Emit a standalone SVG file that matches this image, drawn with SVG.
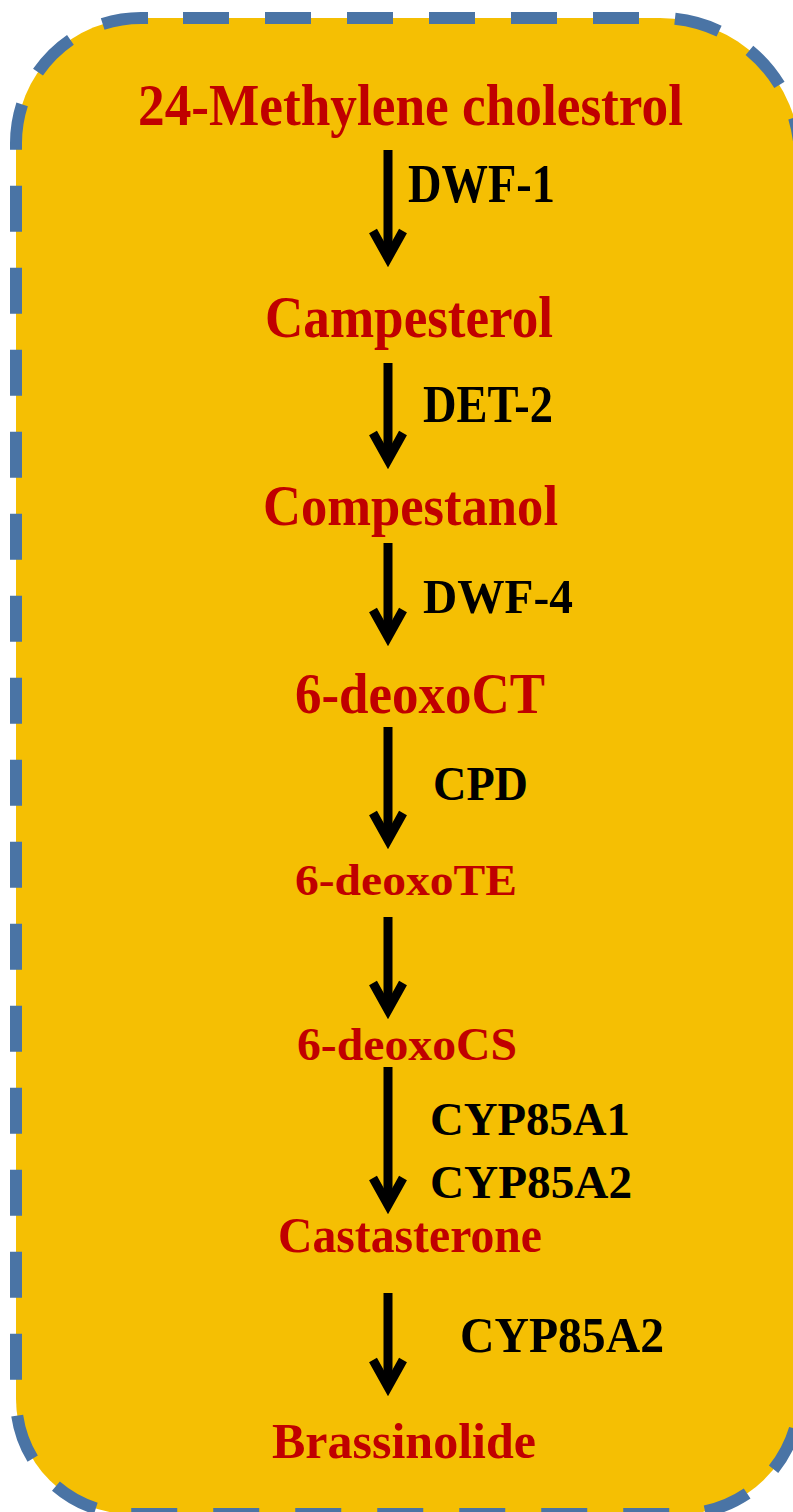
<svg xmlns="http://www.w3.org/2000/svg" width="793" height="1512" viewBox="0 0 793 1512">
<style>
.cmp{font-family:"Liberation Serif","Times New Roman",serif;font-weight:bold;fill:#C00000}
.enz{font-family:"Liberation Serif","Times New Roman",serif;font-weight:bold;fill:#000}
.arr{stroke:#000;stroke-width:9;fill:none;marker-end:url(#ah)}
</style>
<defs>
<marker id="ah" markerUnits="userSpaceOnUse" markerWidth="60" markerHeight="60" viewBox="-40 -30 60 60" refX="0" refY="0" orient="auto" overflow="visible">
<path d="M -27 -15 L 0 0 L -27 15" fill="none" stroke="#000" stroke-width="9" stroke-linejoin="miter"/>
</marker>
</defs>
<rect width="793" height="1512" fill="#fff"/>
<path id="box" d="M 183 18 H 660 A 140 140 0 0 1 800 158 V 1394 A 120 120 0 0 1 680 1514 H 131 A 115 115 0 0 1 16 1399 V 143 A 125 125 0 0 1 141 18 Z" fill="#F5BF03" stroke="#4A74A5" stroke-width="12" stroke-dasharray="46 36"/>
<g id="connectors">
<line class="arr" x1="388" y1="150" x2="388" y2="258"/>
<line class="arr" x1="388" y1="363" x2="388" y2="460"/>
<line class="arr" x1="388" y1="543" x2="388" y2="637"/>
<line class="arr" x1="388" y1="727" x2="388" y2="840"/>
<line class="arr" x1="388" y1="917" x2="388" y2="1010"/>
<line class="arr" x1="388" y1="1067" x2="388" y2="1205"/>
<line class="arr" x1="388" y1="1293" x2="388" y2="1387"/>
</g>
<g id="n1"><text class="cmp" x="138" y="125" font-size="60" textLength="545" lengthAdjust="spacingAndGlyphs">24-Methylene cholestrol</text></g>
<g id="e1"><text class="enz" x="408" y="202" font-size="55" textLength="147" lengthAdjust="spacingAndGlyphs">DWF-1</text></g>
<g id="n2"><text class="cmp" x="265" y="337" font-size="60" textLength="288" lengthAdjust="spacingAndGlyphs">Campesterol</text></g>
<g id="e2"><text class="enz" x="423" y="422" font-size="53" textLength="130" lengthAdjust="spacingAndGlyphs">DET-2</text></g>
<g id="n3"><text class="cmp" x="263" y="525" font-size="57" textLength="295" lengthAdjust="spacingAndGlyphs">Compestanol</text></g>
<g id="e3"><text class="enz" x="423" y="613" font-size="49" textLength="150" lengthAdjust="spacingAndGlyphs">DWF-4</text></g>
<g id="n4"><text class="cmp" x="295" y="713" font-size="57" textLength="250" lengthAdjust="spacingAndGlyphs">6-deoxoCT</text></g>
<g id="e4"><text class="enz" x="433" y="800" font-size="48" textLength="95" lengthAdjust="spacingAndGlyphs">CPD</text></g>
<g id="n5"><text class="cmp" x="295" y="895" font-size="45" textLength="222" lengthAdjust="spacingAndGlyphs">6-deoxoTE</text></g>
<g id="n6"><text class="cmp" x="297" y="1060" font-size="47" textLength="220" lengthAdjust="spacingAndGlyphs">6-deoxoCS</text></g>
<g id="e6"><text class="enz" x="430" y="1135" font-size="47" textLength="200" lengthAdjust="spacingAndGlyphs">CYP85A1</text><text class="enz" x="430" y="1198" font-size="47" textLength="202" lengthAdjust="spacingAndGlyphs">CYP85A2</text></g>
<g id="n7"><text class="cmp" x="278" y="1252" font-size="51" textLength="264" lengthAdjust="spacingAndGlyphs">Castasterone</text></g>
<g id="e7"><text class="enz" x="460" y="1352" font-size="51" textLength="204" lengthAdjust="spacingAndGlyphs">CYP85A2</text></g>
<g id="n8"><text class="cmp" x="272" y="1458" font-size="51" textLength="264" lengthAdjust="spacingAndGlyphs">Brassinolide</text></g>
</svg>
